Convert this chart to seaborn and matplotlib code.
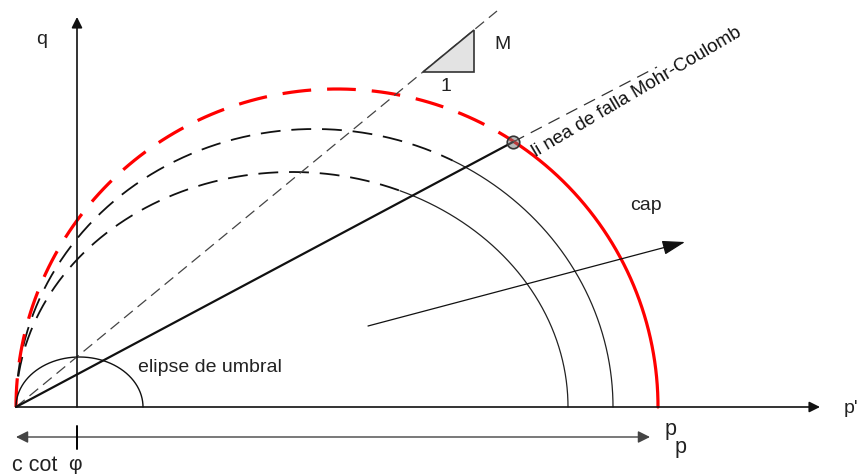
import numpy as np
import pandas as pd
import seaborn as sns
import matplotlib.pyplot as plt

# yield surfaces (cap ellipses starting at the origin): right end p and peak q
cap_pp = [552, 597, 642]
cap_qmax = [235, 278, 318]
cap_colors = ["#222222", "#222222", "#ff0000"]
# threshold ellipse
umbral_pp = 127
umbral_qmax = 50
# Mohr-Coulomb failure point and line end, critical state slope line
mc_point = (497, 265)
mc_end = (641, 340)
m_line_end = (481, 396)
tri_p = [407, 458]
# axes
p_axis_end = 804
q_axis_p = 61
q_axis_end = 390
ccot_arrow_end = 634
load_path = [(352, 81), (669, 165)]

sns.set_theme(style="white")
plt.rcParams['font.family'] = ['Liberation Sans', 'DejaVu Sans']

fig = plt.figure(figsize=(8.6, 4.77), dpi=100)
ax = fig.add_axes([0, 0, 1, 1])
ax.set_xlim(-16, 844)
ax.set_ylim(-69, 408)
ax.axis("off")

k_mc = mc_point[1] / mc_point[0]
fs = 14

def arc(a, b, t0, t1):
    t = np.linspace(t0, t1, 200)
    return pd.DataFrame({"p": a + a * np.cos(t), "q": b * np.sin(t)})

for pp, qm, col in zip(cap_pp, cap_qmax, cap_colors):
    a, b = pp / 2, qm
    ts = 2 * np.arctan(k_mc * a / b)
    red = col == "#ff0000"
    d = arc(a, b, np.pi, ts + (0 if red else 0.05))
    sns.lineplot(data=d, x="p", y="q", sort=False, estimator=None, ax=ax,
                 color="#ff0000" if red else "#111111", lw=2.3 if red else 1.3)
    ax.lines[-1].set_dashes((9, 5) if red else (11, 6))
    s = arc(a, b, ts + (0 if red else 0.05), 0)
    sns.lineplot(data=s, x="p", y="q", sort=False, estimator=None, ax=ax,
                 color=col, lw=2.3 if red else 0.9)

# threshold ellipse
e = arc(umbral_pp / 2, umbral_qmax, np.pi, 0)
sns.lineplot(data=e, x="p", y="q", sort=False, estimator=None, ax=ax, color="#111111", lw=1.0)

# critical state line with slope M
sns.lineplot(x=[0, m_line_end[0]], y=[0, m_line_end[1]], ax=ax, color="#444444", lw=0.9)
ax.lines[-1].set_dashes((9, 5))
km = m_line_end[1] / m_line_end[0]
ax.fill([tri_p[0], tri_p[1], tri_p[1]], [km * tri_p[0], km * tri_p[0], km * tri_p[1]],
        facecolor="#e3e3e3", edgecolor="#333333", lw=1.2, zorder=3)
ax.text(tri_p[1] + 28, km * tri_p[1] - 14, "M", fontsize=fs, ha="center", va="center", color="#222222")
ax.text((tri_p[0] + tri_p[1]) / 2 - 3, km * tri_p[0] - 14, "1", fontsize=fs, ha="center", va="center", color="#222222")

# Mohr-Coulomb line
sns.lineplot(x=[0, mc_point[0]], y=[0, mc_point[1]], ax=ax, color="#111111", lw=1.6)
sns.lineplot(x=[mc_point[0], mc_end[0]], y=[mc_point[1], mc_end[1]], ax=ax, color="#333333", lw=0.9)
ax.lines[-1].set_dashes((10, 6))
ax.plot(*mc_point, "o", ms=9, mfc=(0.45, 0.45, 0.45, 0.5), mec="#333333", mew=1.2, zorder=5)
ax.text(mc_point[0] + 23, mc_point[1] - 14, "li nea de falla Mohr-Coulomb", fontsize=13.5,
        rotation=np.degrees(np.arctan(0.59)), rotation_mode="anchor", ha="left", va="baseline",
        color="#111111")

# axes
arrow = dict(arrowstyle="-|>", color="#111111", lw=1.2, mutation_scale=16, shrinkA=0, shrinkB=0)
ax.annotate("", xy=(p_axis_end, 0), xytext=(0, 0), arrowprops=arrow)
ax.annotate("", xy=(q_axis_p, q_axis_end), xytext=(q_axis_p, 0), arrowprops=arrow)
ax.text(26, 369, "q", fontsize=fs, ha="center", va="center", color="#222222")
ax.text(828, -1, "p'", fontsize=fs, ha="left", va="center", color="#222222")

# loading direction
ax.annotate("", xy=load_path[1], xytext=load_path[0],
            arrowprops=dict(arrowstyle="-|>,head_length=0.7,head_width=0.22", color="#111111",
                            lw=0.9, mutation_scale=20, shrinkA=0, shrinkB=0))
ax.text(614, 203, "cap", fontsize=fs, ha="left", va="center", color="#222222")
ax.text(122, 41, "elipse de umbral", fontsize=fs, ha="left", va="center", color="#222222")

# c cot phi arrow
ax.annotate("", xy=(0, -30), xytext=(ccot_arrow_end, -30),
            arrowprops=dict(arrowstyle="<|-|>", color="#444444", lw=1.0, mutation_scale=18,
                            shrinkA=0, shrinkB=0))
ax.plot([q_axis_p, q_axis_p], [-19, -42], color="#000000", lw=1.4, zorder=4)
ax.text(-4, -58, "c cot", fontsize=fs + 1.5, ha="left", va="center", color="#222222")
ax.text(q_axis_p - 2, -57, "φ", fontsize=fs + 1, ha="center", va="center", color="#222222")
ax.text(655, -22, "p", fontsize=fs + 1.5, ha="center", va="center", color="#222222")
ax.text(665, -40, "p", fontsize=fs + 1.5, ha="center", va="center", color="#222222")

fig.savefig("out.png", dpi=100)
